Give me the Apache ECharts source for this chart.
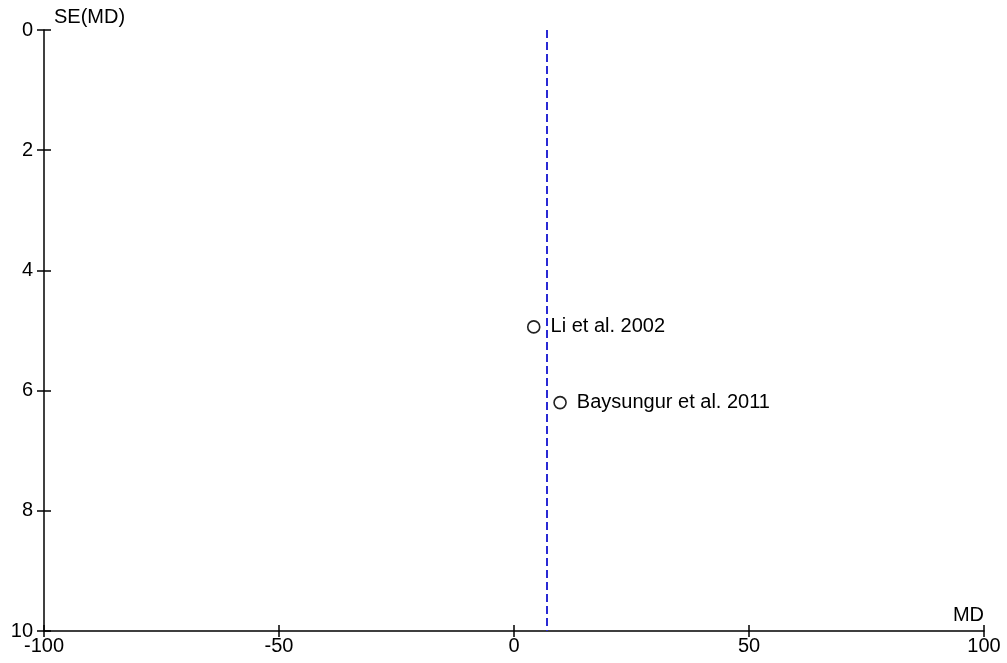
<!DOCTYPE html>
<html>
<head>
<meta charset="utf-8">
<script src="https://cdn.jsdelivr.net/npm/echarts@6/dist/echarts.min.js"></script>
<style>html,body{margin:0;padding:0;background:#fff}#c{width:1007px;height:663px}</style>
</head>
<body>
<div id="c"></div>
<script>
const studies = ['Li et al. 2002', 'Baysungur et al. 2011'];
const md = [4.2, 9.8];
const se = [4.94, 6.2];
const pooledMD = 7.0;
const xRange = [-100, 100];
const yRange = [0, 10];

const font = 'Liberation Sans, Arial, sans-serif';
const fs = 20;
const chart = echarts.init(document.getElementById('c'));
const tickStyle = {color: '#000', width: 1.5};
const baseX = {
  type: 'value', min: xRange[0], max: xRange[1], interval: 50,
  splitLine: {show: false},
  axisLine: {show: true, onZero: false, lineStyle: {color: '#000', width: 1.5}},
  axisTick: {show: true, length: 6, lineStyle: tickStyle}
};
const baseY = {
  type: 'value', min: yRange[0], max: yRange[1], interval: 2, inverse: true,
  splitLine: {show: false},
  axisLine: {show: true, onZero: false, lineStyle: {color: '#000', width: 1.5}},
  axisTick: {show: true, length: 7, lineStyle: tickStyle}
};
chart.setOption({
  animation: false,
  grid: {left: 44, right: 23, top: 30, bottom: 32, containLabel: false},
  xAxis: [
    Object.assign({}, baseX, {
      position: 'bottom',
      name: 'MD', nameLocation: 'end', nameGap: 0,
      nameTextStyle: {color: '#000', fontSize: fs, fontFamily: font, align: 'right', verticalAlign: 'bottom', padding: [0, 0, 6, 0]},
      axisLabel: {color: '#000', fontSize: fs, fontFamily: font, margin: 5}
    }),
    Object.assign({}, baseX, {
      position: 'bottom', axisLine: {show: false, onZero: false}, axisLabel: {show: false},
      axisTick: {show: true, inside: true, length: 6, lineStyle: tickStyle}
    })
  ],
  yAxis: [
    Object.assign({}, baseY, {
      position: 'left',
      name: 'SE(MD)', nameLocation: 'start', nameGap: 0,
      nameTextStyle: {color: '#000', fontSize: fs, fontFamily: font, align: 'left', verticalAlign: 'bottom', padding: [0, 0, 3, 10]},
      axisLabel: {color: '#000', fontSize: fs, fontFamily: font, margin: 11}
    }),
    Object.assign({}, baseY, {
      position: 'left', axisLine: {show: false, onZero: false}, axisLabel: {show: false},
      axisTick: {show: true, inside: true, length: 7, lineStyle: tickStyle}
    })
  ],
  series: [{
    type: 'scatter',
    xAxisIndex: 0, yAxisIndex: 0,
    data: studies.map((s, i) => ({name: s, value: [md[i], se[i]]})),
    symbol: 'circle', symbolSize: 12,
    itemStyle: {color: '#fff', borderColor: '#222', borderWidth: 1.6, opacity: 1},
    label: {show: true, position: 'right', distance: 10, formatter: p => p.name, color: '#000', fontSize: fs, fontFamily: font},
    markLine: {
      silent: true, symbol: 'none', animation: false,
      label: {show: false},
      lineStyle: {color: '#2a2ad4', type: [8, 4], width: 2},
      data: [[{coord: [pooledMD, yRange[0]]}, {coord: [pooledMD, yRange[1]]}]]
    }
  }]
});
</script>
</body>
</html>
